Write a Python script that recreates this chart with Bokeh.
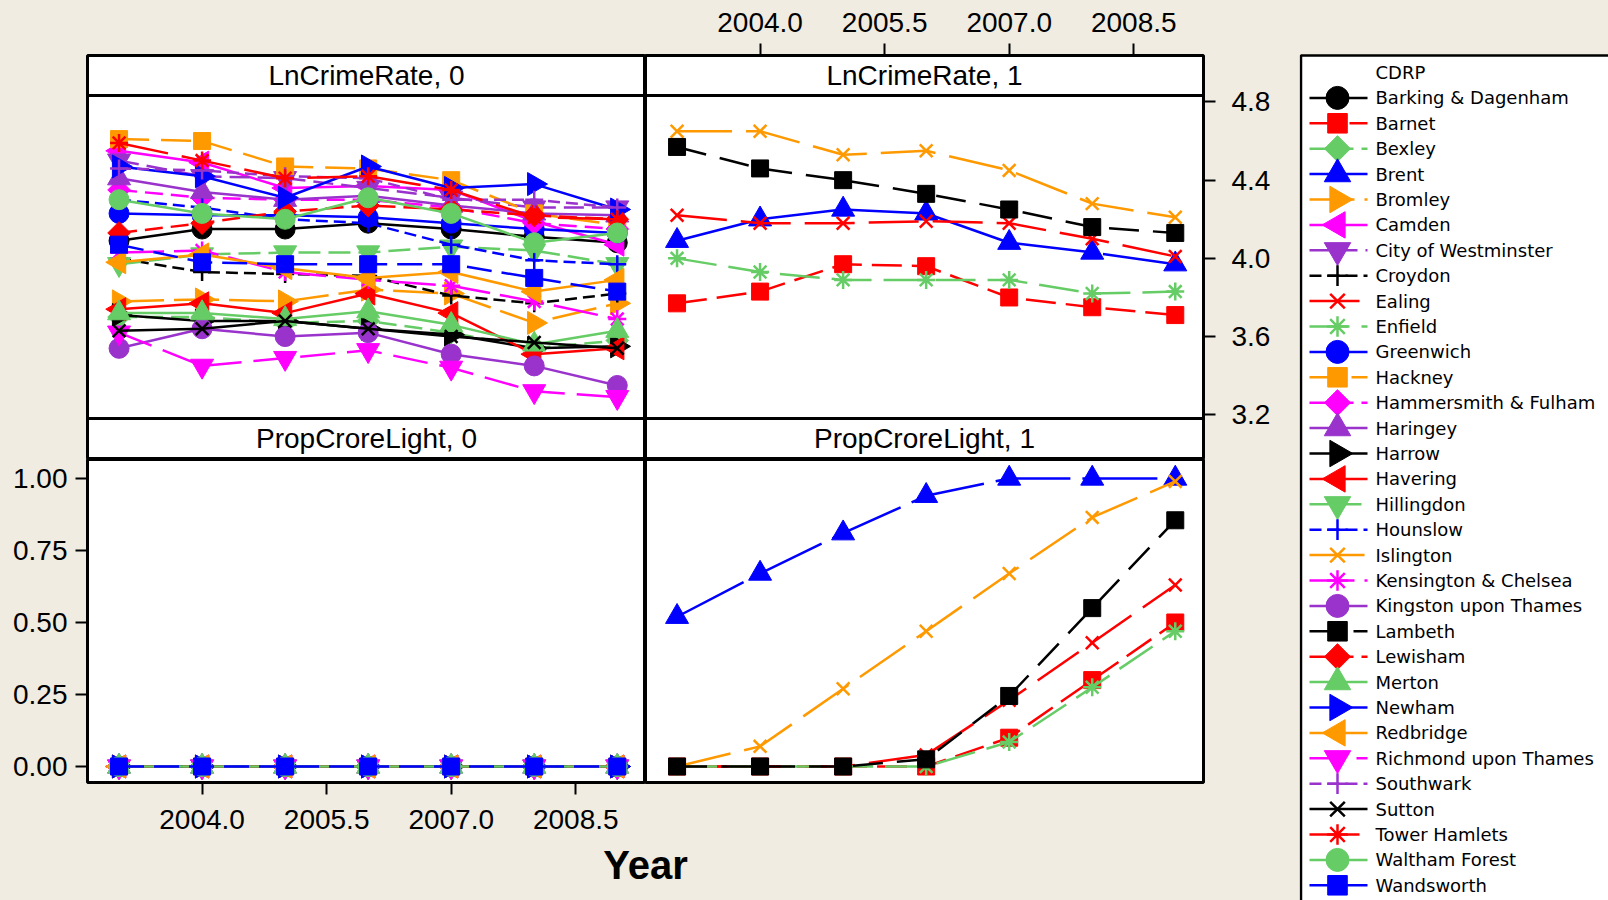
import math
from bokeh.plotting import figure
from bokeh.layouts import row, column
from bokeh.models import (Range1d, LinearAxis, FixedTicker, NumeralTickFormatter,
                          Label, BoxAnnotation)
from bokeh.core.properties import value
from bokeh.embed import file_html
from bokeh.resources import INLINE

# ---------------- data ----------------
YEARS = [2003, 2004, 2005, 2006, 2007, 2008, 2009]
X_TICKS = [2004.0, 2005.5, 2007.0, 2008.5]
Y_TICKS_LN = [3.2, 3.6, 4.0, 4.4, 4.8]
Y_TICKS_PROP = [0.0, 0.25, 0.50, 0.75, 1.00]

BOROUGHS = ["Barking & Dagenham", "Barnet", "Bexley", "Brent", "Bromley", "Camden",
            "City of Westminster", "Croydon", "Ealing", "Enfield", "Greenwich", "Hackney",
            "Hammersmith & Fulham", "Haringey", "Harrow", "Havering", "Hillingdon",
            "Hounslow", "Islington", "Kensington & Chelsea", "Kingston upon Thames",
            "Lambeth", "Lewisham", "Merton", "Newham", "Redbridge", "Richmond upon Thames",
            "Southwark", "Sutton", "Tower Hamlets", "Waltham Forest", "Wandsworth"]
GROUP = [0, 1, 0, 1, 0, 0, 0, 0, 1, 1, 0, 0, 0, 0, 0, 0,
         0, 0, 1, 0, 0, 1, 0, 0, 0, 0, 0, 0, 0, 0, 0, 0]

ln_barking = [4.09, 4.15, 4.15, 4.18, 4.15, 4.11, 4.08]
ln_barnet = [3.77, 3.83, 3.97, 3.96, 3.80, 3.75, 3.71]
ln_bexley = [3.70, 3.70, 3.67, 3.68, 3.62, 3.54, 3.58]
ln_brent = [4.09, 4.20, 4.25, 4.23, 4.08, 4.03, 3.97]
ln_bromley = [3.78, 3.79, 3.78, 3.84, 3.82, 3.67, 3.77]
ln_camden = [4.55, 4.49, 4.36, 4.37, 4.35, 4.19, 4.07]
ln_westminster = [4.50, 4.42, 4.41, 4.36, 4.31, 4.26, 4.26]
ln_croydon = [4.00, 3.93, 3.92, 3.91, 3.81, 3.77, 3.82]
ln_ealing = [4.22, 4.18, 4.18, 4.19, 4.18, 4.10, 4.01]
ln_enfield = [4.00, 3.93, 3.89, 3.89, 3.89, 3.82, 3.83]
ln_greenwich = [4.23, 4.22, 4.22, 4.21, 4.18, 4.15, 4.13]
ln_hackney = [4.61, 4.60, 4.47, 4.46, 4.40, 4.23, 4.17]
ln_hammersmith = [4.35, 4.31, 4.30, 4.30, 4.26, 4.18, 4.15]
ln_haringey = [4.41, 4.34, 4.30, 4.32, 4.27, 4.23, 4.22]
ln_harrow = [3.71, 3.68, 3.68, 3.64, 3.61, 3.54, 3.55]
ln_havering = [3.74, 3.77, 3.72, 3.82, 3.72, 3.51, 3.54]
ln_hillingdon = [3.97, 4.02, 4.03, 4.03, 4.06, 4.04, 3.97]
ln_hounslow = [4.30, 4.26, 4.20, 4.18, 4.07, 3.99, 3.97]
ln_islington = [4.65, 4.65, 4.53, 4.55, 4.45, 4.28, 4.21]
ln_kensington = [4.03, 4.04, 3.93, 3.89, 3.86, 3.78, 3.69]
ln_kingston = [3.54, 3.64, 3.60, 3.62, 3.51, 3.45, 3.35]
ln_lambeth = [4.57, 4.46, 4.40, 4.33, 4.25, 4.16, 4.13]
ln_lewisham = [4.13, 4.18, 4.24, 4.27, 4.25, 4.22, 4.20]
ln_merton = [3.72, 3.72, 3.69, 3.73, 3.66, 3.56, 3.63]
ln_newham = [4.47, 4.42, 4.31, 4.47, 4.36, 4.38, 4.25]
ln_redbridge = [3.98, 4.02, 3.95, 3.90, 3.93, 3.83, 3.89]
ln_richmond = [3.62, 3.45, 3.49, 3.53, 3.44, 3.32, 3.29]
ln_southwark = [4.46, 4.45, 4.42, 4.41, 4.30, 4.30, 4.26]
ln_sutton = [3.63, 3.64, 3.68, 3.64, 3.60, 3.57, 3.54]
ln_tower_hamlets = [4.59, 4.50, 4.41, 4.42, 4.35, 4.21, 4.20]
ln_waltham = [4.30, 4.23, 4.20, 4.31, 4.23, 4.08, 4.13]
ln_wandsworth = [4.07, 3.98, 3.97, 3.97, 3.97, 3.90, 3.83]

prop_group0 = [0.0, 0.0, 0.0, 0.0, 0.0, 0.0, 0.0]
prop_barnet = [0.0, 0.0, 0.0, 0.0, 0.10, 0.30, 0.50]
prop_brent = [0.52, 0.67, 0.81, 0.94, 1.00, 1.00, 1.00]
prop_ealing = [0.0, 0.0, 0.0, 0.04, 0.23, 0.43, 0.63]
prop_enfield = [0.0, 0.0, 0.0, 0.0, 0.085, 0.275, 0.47]
prop_islington = [0.0, 0.07, 0.27, 0.47, 0.67, 0.865, 0.99]
prop_lambeth = [0.0, 0.0, 0.0, 0.025, 0.245, 0.55, 0.855]

LN = [ln_barking, ln_barnet, ln_bexley, ln_brent, ln_bromley, ln_camden, ln_westminster,
      ln_croydon, ln_ealing, ln_enfield, ln_greenwich, ln_hackney, ln_hammersmith,
      ln_haringey, ln_harrow, ln_havering, ln_hillingdon, ln_hounslow, ln_islington,
      ln_kensington, ln_kingston, ln_lambeth, ln_lewisham, ln_merton, ln_newham,
      ln_redbridge, ln_richmond, ln_southwark, ln_sutton, ln_tower_hamlets, ln_waltham,
      ln_wandsworth]
PROP_G1 = {"Barnet": prop_barnet, "Brent": prop_brent, "Ealing": prop_ealing,
           "Enfield": prop_enfield, "Islington": prop_islington, "Lambeth": prop_lambeth}
PROP = [PROP_G1.get(n, prop_group0) for n in BOROUGHS]

# ---------------- styles ----------------
BG = "#F0ECE1"
COLOR_CYCLE = ["#000000", "#FF0000", "#66CC66", "#0000FF", "#FF9900", "#FF00FF", "#9933CC"]
MARKER_CYCLE = ["circle", "square", "diamond", "triangle", "tri_right", "tri_left",
                "inverted_triangle", "cross", "x", "asterisk"]
DASHES = ["solid", "30 10", "18 8", "75 12", "45 10", "solid", "20 8", "12 6",
          "50 14", "40 12", "solid", "30 12", "18 8", "solid", "solid", "solid",
          "22 8", "12 6", "55 14", "45 10", "solid", "30 14", "18 8", "solid",
          "solid", "solid", "35 12", "12 6", "solid", "50 14", "solid", "25 10"]
TICK_FONT = "Liberation Sans"


def draw_markers(p, xs, ys, i, scale=1.0):
    kind = MARKER_CYCLE[i % len(MARKER_CYCLE)]
    col = COLOR_CYCLE[i % len(COLOR_CYCLE)]
    kw = dict(x=xs, y=ys, fill_color=col, line_color=col)
    if kind == "circle":
        p.scatter(marker="circle", size=20 * scale, line_width=1, **kw)
    elif kind == "square":
        p.scatter(marker="square", size=17 * scale, line_width=1, **kw)
    elif kind == "diamond":
        p.scatter(marker="square", angle=math.pi / 4, size=16 * scale, line_width=1, **kw)
    elif kind == "triangle":
        p.scatter(marker="triangle", size=23 * scale, line_width=1, **kw)
    elif kind == "inverted_triangle":
        p.scatter(marker="inverted_triangle", size=23 * scale, line_width=1, **kw)
    elif kind == "tri_right":
        p.scatter(marker="triangle", angle=-math.pi / 2, size=23 * scale, line_width=1, **kw)
    elif kind == "tri_left":
        p.scatter(marker="triangle", angle=math.pi / 2, size=23 * scale, line_width=1, **kw)
    else:
        p.scatter(marker=kind, size=18 * scale, line_width=2.5, **kw)


def draw_series(p, xs, ys, i):
    col = COLOR_CYCLE[i % len(COLOR_CYCLE)]
    p.line(xs, ys, line_color=col, line_width=2.5, line_dash=DASHES[i])
    draw_markers(p, xs, ys, i)


# panel geometry (pixels): frames 558 wide, strips 40/41 tall, panels 323 tall
PX_PER_LN = 195.5
LN_LO, LN_HI = 3.181, 4.833
STRIP_TOP_H, STRIP_BOT_H = 40, 41
XR = Range1d(2002.62, 2009.34)
# top figure frame also contains the two strips (top strip above, bottom strip below)
YR_TOP = Range1d(LN_LO - STRIP_BOT_H / PX_PER_LN, LN_HI + STRIP_TOP_H / PX_PER_LN)
YR_PROP = Range1d(-0.0555, 1.066)


def make_fig(w, h, yr, left=0, right=0, top=0, bottom=0, xr=XR):
    p = figure(width=w, height=h, x_range=xr, y_range=yr, output_backend="svg",
               toolbar_location=None, x_axis_type=None, y_axis_type=None,
               min_border_left=left, min_border_right=right,
               min_border_top=top, min_border_bottom=bottom)
    p.background_fill_color = "white"
    p.border_fill_color = BG
    p.outline_line_color = "black"
    p.outline_line_width = 3
    return p


def style_axis(ax, standoff):
    ax.axis_line_color = None
    ax.major_tick_line_color = "black"
    ax.major_tick_line_width = 2
    ax.major_tick_in = 0
    ax.major_tick_out = 12
    ax.minor_tick_line_color = None
    ax.major_label_text_font = TICK_FONT
    ax.major_label_text_font_size = "28px"
    ax.major_label_text_color = "black"
    ax.major_label_standoff = standoff


def add_strips(p, top_text, bot_text):
    mid = (XR.start + XR.end) / 2
    p.add_layout(BoxAnnotation(bottom=LN_HI, fill_alpha=0, line_color="black",
                               line_alpha=1.0, line_width=3))
    p.add_layout(BoxAnnotation(top=LN_LO, fill_alpha=0, line_color="black",
                               line_alpha=1.0, line_width=3))
    p.add_layout(Label(x=mid, y=LN_HI + STRIP_TOP_H / PX_PER_LN / 2, text=top_text,
                       text_align="center", text_baseline="middle", text_font=TICK_FONT,
                       text_font_size="28px", text_color="black"))
    p.add_layout(Label(x=mid, y=LN_LO - STRIP_BOT_H / PX_PER_LN / 2, text=bot_text,
                       text_align="center", text_baseline="middle", text_font=TICK_FONT,
                       text_font_size="28px", text_color="black"))


LB, RB = 87, 96
FW = 558
LW, RW = LB + FW, FW + RB
TOP_B = 55
TOP_H = TOP_B + STRIP_TOP_H + 323 + STRIP_BOT_H
BOT_H = 323 + 60

p_tl = make_fig(LW, TOP_H, YR_TOP, left=LB, top=TOP_B)
p_tr = make_fig(RW, TOP_H, YR_TOP, right=RB, top=TOP_B)
add_strips(p_tl, "LnCrimeRate, 0", "PropCroreLight, 0")
add_strips(p_tr, "LnCrimeRate, 1", "PropCroreLight, 1")
p_bl = make_fig(LW, BOT_H, YR_PROP, left=LB, bottom=60)
p_br = make_fig(RW, BOT_H, YR_PROP, right=RB, bottom=60)

ax_top = LinearAxis(ticker=FixedTicker(ticks=X_TICKS), formatter=NumeralTickFormatter(format="0.0"))
style_axis(ax_top, 12)
p_tr.add_layout(ax_top, "above")
ax_r = LinearAxis(ticker=FixedTicker(ticks=Y_TICKS_LN), formatter=NumeralTickFormatter(format="0.0"))
style_axis(ax_r, 16)
p_tr.add_layout(ax_r, "right")
ax_l = LinearAxis(ticker=FixedTicker(ticks=Y_TICKS_PROP), formatter=NumeralTickFormatter(format="0.00"))
style_axis(ax_l, 8)
p_bl.add_layout(ax_l, "left")
ax_b = LinearAxis(ticker=FixedTicker(ticks=X_TICKS), formatter=NumeralTickFormatter(format="0.0"))
style_axis(ax_b, 15)
p_bl.add_layout(ax_b, "below")

for i, name in enumerate(BOROUGHS):
    if GROUP[i] == 0:
        draw_series(p_tl, YEARS, LN[i], i)
        draw_series(p_bl, YEARS, PROP[i], i)
    else:
        draw_series(p_tr, YEARS, LN[i], i)
        draw_series(p_br, YEARS, PROP[i], i)

# x-axis title
YF_H = 900 - TOP_H - BOT_H
yf = figure(width=LW + RW, height=YF_H, x_range=Range1d(0, LW + RW), y_range=Range1d(0, YF_H),
            output_backend="svg", toolbar_location=None, x_axis_type=None, y_axis_type=None,
            min_border_left=0, min_border_right=0, min_border_top=0, min_border_bottom=0)
yf.outline_line_color = None
yf.background_fill_color = BG
yf.border_fill_color = BG
yf.add_layout(Label(x=LW, y=YF_H - 22, text="Year", text_align="center", text_baseline="middle",
                    text_font=TICK_FONT, text_font_style="bold", text_font_size="40px",
                    text_color="black"))

# legend panel
LG_W, LG_H = 1608 - LW - RW, 900
lg = figure(width=LG_W, height=LG_H, x_range=Range1d(0, LG_W), y_range=Range1d(LG_H, 0),
            output_backend="svg", toolbar_location=None, x_axis_type=None, y_axis_type=None,
            min_border_left=0, min_border_right=0, min_border_top=0, min_border_bottom=0)
lg.outline_line_color = None
lg.background_fill_color = BG
lg.border_fill_color = BG
lg.add_layout(BoxAnnotation(left=1.5, right=LG_W + 20, top=55, bottom=LG_H + 20,
                            fill_color="white", fill_alpha=1.0, line_color="black",
                            line_alpha=1.0, line_width=2.5, level="underlay"))
ROW0, ROWH = 97.4, 25.4
rows_y = [ROW0 + ROWH * k for k in range(len(BOROUGHS))]
for i, yy in enumerate(rows_y):
    col = COLOR_CYCLE[i % len(COLOR_CYCLE)]
    lg.line([10, 68], [yy, yy], line_color=col, line_width=2.5, line_dash=DASHES[i])
    draw_markers(lg, [38], [yy], i, scale=1.15)
lg.text(x=[76] * (len(BOROUGHS) + 1), y=[ROW0 - ROWH] + rows_y, text=["CDRP"] + BOROUGHS,
        text_font=value("DejaVu Sans"), text_font_size=value("18px"),
        text_baseline="middle", text_align="left", text_color="black")

col_l = column(p_tl, p_bl)
col_r = column(p_tr, p_br)
root = row(column(row(col_l, col_r), yf), lg)

html = file_html(root, INLINE, title="CDRP trellis")
html = html.replace("<body>", '<body style="background-color:%s;">' % BG)
open("out.html", "w").write(html)
